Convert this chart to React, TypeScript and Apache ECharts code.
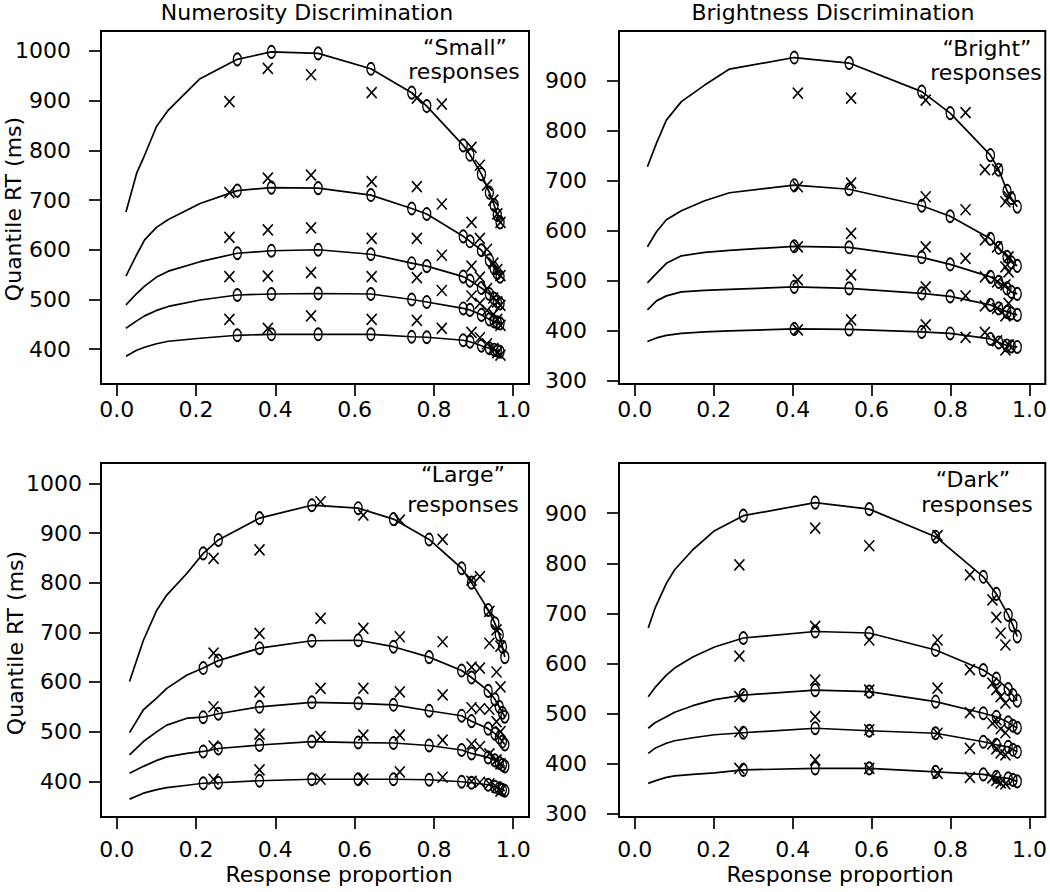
import React, { useEffect, useRef } from "react";
import * as echarts from "echarts";

const FONT = "DejaVu Sans";

// Tick labels
const xTicks = [0, 0.2, 0.4, 0.6, 0.8, 1.0];
const yTicksNum = [400, 500, 600, 700, 800, 900, 1000];
const yTicksBri = [300, 400, 500, 600, 700, 800, 900];

// ---------- Numerosity, "Small" responses (top-left) ----------
// model curve points without markers (quantiles .1 .3 .5 .7 .9)
const tlTailP = [0.023, 0.05, 0.07, 0.1, 0.13, 0.21];
const tlTailQ = [
  [386, 398, 404, 411, 416, 422],
  [442, 457, 467, 478, 486, 499],
  [489, 512, 527, 545, 557, 576],
  [547, 590, 620, 645, 661, 693],
  [676, 754, 790, 848, 881, 944],
];
// model predictions ("o")
const tlModelP = [0.304, 0.39, 0.508, 0.641, 0.744, 0.782, 0.874, 0.891, 0.92, 0.94, 0.952, 0.96, 0.967];
const tlModelQ = [
  [428, 430, 430, 430, 425, 424, 418, 415, 407, 402, 399, 397, 395],
  [509, 511, 512, 511, 500, 495, 482, 479, 469, 460, 456, 454, 452],
  [593, 598, 600, 591, 573, 567, 546, 538, 523, 511, 502, 496, 492],
  [719, 725, 724, 710, 683, 672, 627, 617, 599, 579, 563, 553, 546],
  [983, 998, 995, 964, 916, 889, 810, 791, 752, 715, 690, 670, 655],
];
// data ("x")
const tlDataP = [0.284, 0.381, 0.49, 0.643, 0.757, 0.82, 0.895, 0.916, 0.934, 0.95, 0.96, 0.968];
const tlDataQ = [
  [460, 442, 467, 460, 458, 442, 434, 423, 411, 401, 393, 388],
  [546, 547, 554, 546, 544, 518, 507, 492, 478, 470, 460, 448],
  [625, 640, 644, 623, 623, 589, 567, 545, 522, 503, 495, 488],
  [715, 744, 750, 737, 727, 692, 655, 623, 601, 573, 560, 548],
  [898, 965, 952, 916, 905, 893, 806, 770, 730, 700, 672, 655],
];

// ---------- Brightness, "Bright" responses (top-right) ----------
const trTailP = [0.032, 0.055, 0.08, 0.118, 0.177, 0.24];
const trTailQ = [
  [379, 386, 391, 395, 398, 400],
  [442, 460, 470, 478, 481, 483],
  [496, 515, 535, 550, 557, 561],
  [568, 598, 622, 640, 660, 676],
  [728, 775, 821, 858, 891, 923],
];
const trModelP = [0.404, 0.543, 0.727, 0.799, 0.901, 0.922, 0.943, 0.954, 0.969];
const trModelQ = [
  [404, 403, 398, 395, 384, 377, 371, 369, 368],
  [488, 485, 475, 469, 452, 445, 438, 435, 432],
  [569, 567, 547, 533, 508, 498, 485, 478, 474],
  [691, 683, 650, 629, 584, 566, 548, 537, 530],
  [946, 935, 878, 835, 751, 722, 680, 665, 648],
];
const trDataP = [0.413, 0.548, 0.737, 0.838, 0.887, 0.918, 0.939, 0.947];
const trDataQ = [
  [402, 422, 412, 387, 397, 380, 362, 372],
  [502, 512, 488, 470, 450, 445, 430, 455],
  [568, 595, 568, 545, 508, 498, 492, 518],
  [688, 695, 668, 642, 582, 568, 528, 548],
  [875, 865, 861, 836, 722, 722, 658, 668],
];

// ---------- Numerosity, "Large" responses (bottom-left) ----------
const blTailP = [0.032, 0.067, 0.101, 0.126, 0.177];
const blTailQ = [
  [364, 376, 383, 387, 392],
  [416, 430, 442, 449, 456],
  [453, 480, 500, 513, 527],
  [498, 544, 568, 587, 614],
  [601, 684, 745, 775, 819],
];
const blModelP = [0.218, 0.256, 0.36, 0.492, 0.609, 0.698, 0.788, 0.87, 0.895, 0.937, 0.954, 0.965, 0.973, 0.979];
const blModelQ = [
  [396, 397, 401, 404, 404, 404, 403, 399, 397, 393, 389, 386, 383, 381],
  [460, 466, 473, 480, 478, 477, 472, 463, 456, 448, 442, 437, 433, 430],
  [529, 536, 550, 559, 557, 554, 542, 532, 521, 506, 496, 488, 480, 474],
  [628, 643, 668, 683, 684, 671, 650, 623, 609, 582, 565, 550, 538, 530],
  [859, 886, 930, 956, 950, 928, 887, 829, 800, 745, 718, 695, 671, 650],
];
const blDataP = [0.244, 0.36, 0.514, 0.622, 0.714, 0.822, 0.895, 0.916, 0.94, 0.958, 0.968];
const blDataQ = [
  [404, 423, 404, 404, 419, 408, 400, 398, 395, 388, 380],
  [471, 495, 490, 493, 493, 483, 475, 470, 455, 443, 435],
  [550, 580, 587, 587, 580, 574, 548, 546, 545, 520, 500],
  [658, 698, 728, 708, 691, 681, 630, 628, 678, 620, 590],
  [849, 866, 963, 936, 926, 887, 805, 812, 742, 705, 672],
];

// ---------- Brightness, "Dark" responses (bottom-right) ----------
const brTailP = [0.034, 0.051, 0.08, 0.101, 0.147, 0.202];
const brTailQ = [
  [361, 366, 373, 376, 379, 382],
  [421, 431, 441, 446, 452, 458],
  [471, 482, 494, 503, 516, 528],
  [534, 552, 577, 591, 613, 633],
  [671, 710, 760, 787, 827, 865],
];
const brModelP = [0.275, 0.457, 0.594, 0.762, 0.883, 0.916, 0.946, 0.958, 0.969];
const brModelQ = [
  [388, 391, 391, 384, 379, 374, 371, 368, 365],
  [462, 471, 466, 461, 444, 438, 434, 428, 424],
  [537, 547, 544, 524, 501, 494, 483, 476, 472],
  [651, 664, 661, 627, 587, 570, 549, 537, 526],
  [895, 921, 908, 853, 773, 739, 697, 676, 654],
];
const brDataP = [0.265, 0.457, 0.594, 0.767, 0.849, 0.906, 0.916, 0.927, 0.939];
const brDataQ = [
  [391, 408, 391, 381, 373, 372, 367, 362, 360],
  [464, 494, 468, 461, 431, 440, 430, 422, 418],
  [534, 567, 547, 551, 502, 481, 488, 470, 462],
  [615, 674, 647, 647, 588, 561, 548, 534, 521],
  [797, 870, 835, 855, 777, 727, 692, 661, 637],
];

const panels = [
  { tailP: tlTailP, tailQ: tlTailQ, modelP: tlModelP, modelQ: tlModelQ, dataP: tlDataP, dataQ: tlDataQ },
  { tailP: trTailP, tailQ: trTailQ, modelP: trModelP, modelQ: trModelQ, dataP: trDataP, dataQ: trDataQ },
  { tailP: blTailP, tailQ: blTailQ, modelP: blModelP, modelQ: blModelQ, dataP: blDataP, dataQ: blDataQ },
  { tailP: brTailP, tailQ: brTailQ, modelP: brModelP, modelQ: brModelQ, dataP: brDataP, dataQ: brDataQ },
];

const grids = [
  { left: 101, top: 31, width: 428, height: 353 },
  { left: 619, top: 31, width: 429, height: 353 },
  { left: 101, top: 463, width: 428, height: 354 },
  { left: 619, top: 463, width: 429, height: 354 },
];
const yRanges = [
  [330, 1040],
  [294, 999],
  [328, 1041],
  [294, 1000],
];
const yTickSets = [yTicksNum, yTicksBri, yTicksNum, yTicksBri];
const yLabelMargins = [30, 32, 19, 32];
const xLabelMargins = [14, 14, 21, 21];
const FS = 22;

function buildOption() {
  const series: any[] = [];
  panels.forEach((pn, k) => {
    for (let q = 0; q < 5; q++) {
      const line = pn.tailP
        .map((p, i) => [p, pn.tailQ[q][i]])
        .concat(pn.modelP.map((p, i) => [p, pn.modelQ[q][i]]));
      series.push({
        type: "line",
        xAxisIndex: k,
        yAxisIndex: k,
        data: line,
        symbol: "none",
        showSymbol: false,
        silent: true,
        lineStyle: { color: "#000", width: 1.7 },
        z: 2,
      });
    }
    const oPts: number[][] = [];
    const xPts: number[][] = [];
    for (let q = 0; q < 5; q++) {
      pn.modelP.forEach((p, i) => oPts.push([p, pn.modelQ[q][i]]));
      pn.dataP.forEach((p, i) => xPts.push([p, pn.dataQ[q][i]]));
    }
    series.push({
      type: "scatter",
      xAxisIndex: k,
      yAxisIndex: k,
      data: oPts,
      symbol: "circle",
      symbolSize: [8, 12],
      silent: true,
      itemStyle: { color: "none", borderColor: "#000", borderWidth: 1.6, opacity: 1 },
      z: 3,
    });
    series.push({
      type: "scatter",
      xAxisIndex: k,
      yAxisIndex: k,
      data: xPts,
      symbol: "path://M0 0L10 11M10 0L0 11",
      symbolSize: [10, 11],
      silent: true,
      itemStyle: { color: "none", borderColor: "#000", borderWidth: 1.6, opacity: 1 },
      z: 3,
    });
  });

  const labelStyle = { color: "#000", fontSize: FS, fontFamily: FONT };

  const xAxis = grids.map((_, k) => ({
    type: "value",
    gridIndex: k,
    min: -0.04,
    max: 1.04,
    axisLine: { show: false, onZero: false },
    splitLine: { show: false },
    axisTick: { show: true, length: 12, customValues: xTicks, lineStyle: { color: "#000", width: 1.7 } },
    axisLabel: {
      ...labelStyle,
      customValues: xTicks,
      margin: xLabelMargins[k],
      formatter: (v: number) => v.toFixed(1),
    },
  }));
  const yAxis = grids.map((_, k) => ({
    type: "value",
    gridIndex: k,
    min: yRanges[k][0],
    max: yRanges[k][1],
    axisLine: { show: false, onZero: false },
    splitLine: { show: false },
    axisTick: { show: true, length: 12, customValues: yTickSets[k], lineStyle: { color: "#000", width: 1.7 } },
    axisLabel: {
      ...labelStyle,
      customValues: yTickSets[k],
      margin: yLabelMargins[k],
      formatter: (v: number) => String(v),
    },
  }));

  const txt = (text: string, x: number, y: number, extra: any = {}) => ({
    type: "text",
    x,
    y,
    silent: true,
    ...extra,
    style: {
      text,
      fill: "#000",
      fontSize: FS,
      fontFamily: FONT,
      align: "center",
      verticalAlign: "middle",
    },
  });

  const graphic = [
    txt("Numerosity Discrimination", 307, 12),
    txt("Brightness Discrimination", 833, 12),
    txt("Quantile RT (ms)", 13, 209, { rotation: Math.PI / 2 }),
    txt("Quantile RT (ms)", 15, 643, { rotation: Math.PI / 2 }),
    txt("Response proportion", 339, 874),
    txt("Response proportion", 840, 874),
    txt("\u201cSmall\u201d", 465, 47),
    txt("responses", 464, 71),
    txt("\u201cBright\u201d", 987, 48),
    txt("responses", 986, 72),
    txt("\u201cLarge\u201d", 463, 474),
    txt("responses", 463, 504),
    txt("\u201cDark\u201d", 973, 479),
    txt("responses", 977, 504),
  ];

  return {
    animation: false,
    backgroundColor: "#fff",
    grid: grids.map((g) => ({
      ...g,
      show: true,
      borderColor: "#000",
      borderWidth: 2,
      backgroundColor: "transparent",
      containLabel: false,
    })),
    xAxis,
    yAxis,
    series,
    graphic,
  };
}

export default function App() {
  const ref = useRef<HTMLDivElement>(null);
  useEffect(() => {
    document.body.style.margin = "0";
    if (!ref.current) return;
    const chart = echarts.init(ref.current, undefined, { renderer: "svg" });
    chart.setOption(buildOption() as any);
    return () => chart.dispose();
  }, []);
  return <div ref={ref} style={{ width: 1050, height: 892 }} />;
}
